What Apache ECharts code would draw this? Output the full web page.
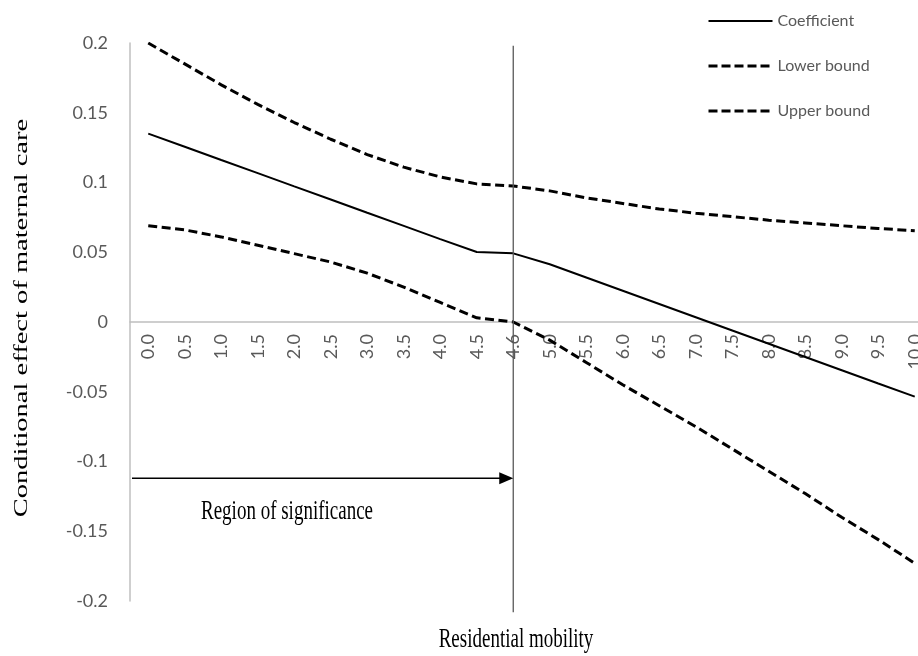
<!DOCTYPE html>
<html><head><meta charset="utf-8">
<script src="https://cdn.jsdelivr.net/npm/echarts@6/dist/echarts.min.js"></script>
<style>html,body{margin:0;padding:0;background:#fff;overflow:hidden;width:918px;height:656px}#c{width:934px;height:656px}</style>
</head><body><div id="c"></div>
<script>
const categories = ['0.0','0.5','1.0','1.5','2.0','2.5','3.0','3.5','4.0','4.5','4.6','5.0','5.5','6.0','6.5','7.0','7.5','8.0','8.5','9.0','9.5','10.0'];
const coefficient = [0.135,0.1256,0.1161,0.1067,0.0972,0.0878,0.0783,0.0689,0.0594,0.0502,0.0492,0.0414,0.0319,0.0224,0.0129,0.0034,-0.0061,-0.0156,-0.0251,-0.0346,-0.0441,-0.0535];
const lowerBound = [0.069,0.066,0.061,0.055,0.049,0.043,0.035,0.025,0.014,0.003,0.0,-0.013,-0.029,-0.045,-0.060,-0.075,-0.091,-0.107,-0.123,-0.140,-0.156,-0.173];
const upperBound = [0.200,0.185,0.170,0.156,0.143,0.131,0.120,0.111,0.104,0.099,0.0975,0.094,0.089,0.085,0.081,0.078,0.0755,0.073,0.071,0.069,0.067,0.0655];
const yMin = -0.2, yMax = 0.2, yInterval = 0.05;
const thresholdCategory = '4.6';
const thresholdLineTop = 0.198, thresholdLineBottom = -0.208;
const arrowLevel = -0.112;
const seriesNames = ['Coefficient','Lower bound','Upper bound'];

const chart = echarts.init(document.getElementById('c'));
const solid = {color:'#000', width:2, type:'solid'};
const dashed = {color:'#000', width:3, type:[9,4.5]};
const legendDashed = {color:'#000', width:3, type:[9,4]};
chart.setOption({
  animation:false,
  backgroundColor:'#fff',
  grid:{left:130, top:43, height:558, width:803, containLabel:false},
  legend:{
    orient:'vertical', left:702, top:8, itemWidth:64, itemHeight:14, itemGap:29,
    itemStyle:{opacity:0},
    textStyle:{color:'#595959', fontFamily:'Lato', fontSize:16},
    data:[
      {name:seriesNames[0], lineStyle:solid},
      {name:seriesNames[1], lineStyle:legendDashed},
      {name:seriesNames[2], lineStyle:legendDashed}
    ]
  },
  xAxis:{
    type:'category', data:categories, boundaryGap:true,
    offset:-279,
    axisLine:{onZero:false, lineStyle:{color:'#bfbfbf', width:1.5}},
    axisTick:{show:false},
    axisLabel:{rotate:90, margin:12, color:'#595959', fontFamily:'Lato', fontSize:18, interval:0},
    splitLine:{show:false}
  },
  yAxis:{
    type:'value', min:yMin, max:yMax, interval:yInterval,
    axisLine:{show:true, lineStyle:{color:'#bfbfbf', width:1.5}},
    axisTick:{show:false},
    splitLine:{show:false},
    axisLabel:{margin:22, color:'#595959', fontFamily:'Lato', fontSize:18}
  },
  series:[
    {name:seriesNames[0], type:'line', data:coefficient, symbol:'none', lineStyle:solid, itemStyle:{color:'#000'}},
    {name:seriesNames[1], type:'line', data:lowerBound, symbol:'none', lineStyle:dashed, itemStyle:{color:'#000'}},
    {name:seriesNames[2], type:'line', data:upperBound, symbol:'none', lineStyle:dashed, itemStyle:{color:'#000'}}
  ]
});

const p = (cat, v) => chart.convertToPixel({gridIndex:0}, [cat, v]);
const tx = p(thresholdCategory, 0)[0];
const band = p(categories[1],0)[0] - p(categories[0],0)[0];
const gridLeft = p(categories[0],0)[0] - band/2;
const yTop = p(thresholdCategory, thresholdLineTop)[1];
const yBot = p(thresholdCategory, thresholdLineBottom)[1];
const ay = p(thresholdCategory, arrowLevel)[1];
const serif = '19px "Liberation Serif"';
chart.setOption({graphic:[
  {type:'line', shape:{x1:tx, y1:yTop, x2:tx, y2:yBot}, style:{stroke:'#595959', lineWidth:1.3}, z:10},
  {type:'line', shape:{x1:gridLeft+2, y1:ay, x2:tx-12, y2:ay}, style:{stroke:'#000', lineWidth:1.3}, z:10},
  {type:'polygon', shape:{points:[[tx-14, ay-6],[tx, ay],[tx-14, ay+6]]}, style:{fill:'#000'}, z:10},
  {type:'text', x:287, y:512, scaleY:1.4, style:{text:'Region of significance', font:serif, fill:'#000', align:'center', verticalAlign:'middle'}, z:10},
  {type:'text', x:516, y:640, scaleY:1.4, style:{text:'Residential mobility', font:serif, fill:'#000', align:'center', verticalAlign:'middle'}, z:10},
  {type:'text', x:22, y:318, rotation:Math.PI/2, scaleX:1.5, style:{text:'Conditional effect of maternal care', font:serif, fill:'#000', align:'center', verticalAlign:'middle'}, z:10}
]});
</script>
</body></html>
